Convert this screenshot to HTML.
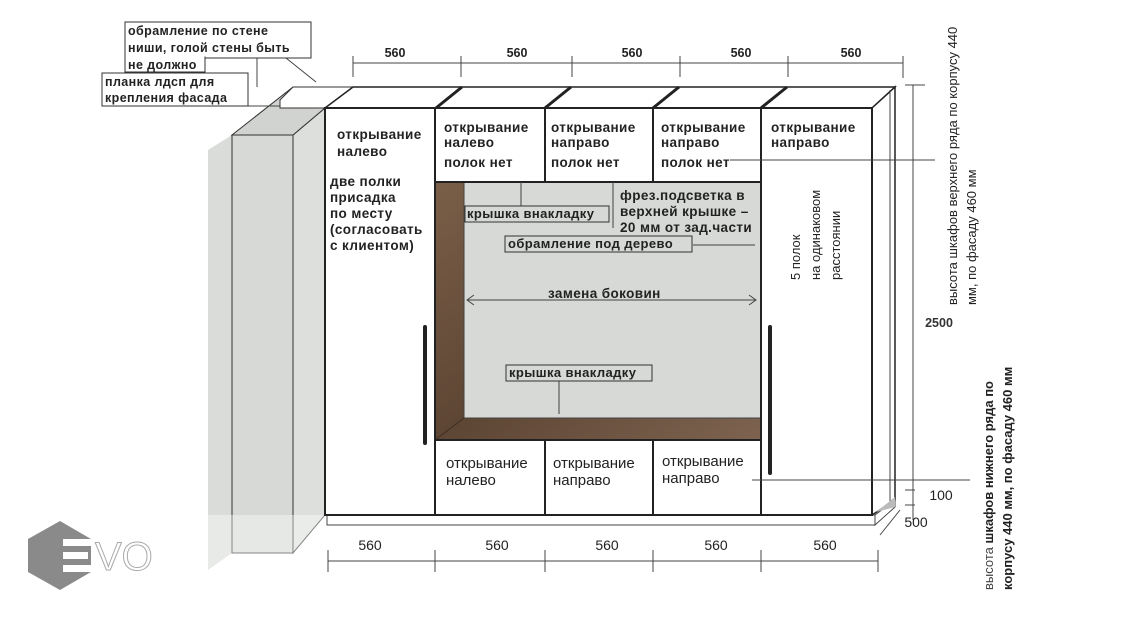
<!DOCTYPE html>
<html><head><meta charset="utf-8"><style>
html,body{margin:0;padding:0;background:#fff;}
svg{display:block;}
text{font-family:"Liberation Sans","DejaVu Sans",sans-serif;fill:#222;}
.b{font-weight:bold;font-size:13.5px;letter-spacing:0.4px;}
.d{font-size:12.5px;font-weight:bold;fill:#333;}
</style></head><body>
<svg width="1145" height="619" viewBox="0 0 1145 619" xmlns="http://www.w3.org/2000/svg">
<defs>
<linearGradient id="wood" x1="0" y1="0" x2="1" y2="1">
<stop offset="0" stop-color="#7a5f48"/><stop offset="0.5" stop-color="#5e4634"/><stop offset="1" stop-color="#7d6350"/>
</linearGradient>
</defs>
<!-- left wall / pillar -->
<polygon points="208,150 232,135 232,553 208,570" fill="#d9dcd8"/>
<rect x="232" y="135" width="61" height="418" fill="#d6d9d5" stroke="#333" stroke-width="1"/>
<polygon points="293,135 325,108 325,515 293,553" fill="#dcdfdb" stroke="#333" stroke-width="1"/>
<polygon points="232,135 293,135 325,108 353,87 293,87" fill="#d0d3cf" stroke="#333" stroke-width="1"/>
<polygon points="280,100 293,87 353,87 325,108 280,108" fill="#fff" stroke="#333" stroke-width="1"/>
<rect x="208" y="515" width="120" height="56" fill="#fff" opacity="0.4"/>
<!-- cabinet top & side -->
<polygon points="325,108 353,87 895,87 872,108" fill="#fff" stroke="#222" stroke-width="1.5"/>
<polygon points="872,108 895,87 895,500 872,515" fill="#fff" stroke="#222" stroke-width="1.5"/>
<line x1="436" y1="108" x2="462" y2="87" stroke="#222" stroke-width="3"/>
<line x1="545" y1="108" x2="571" y2="87" stroke="#222" stroke-width="3"/>
<line x1="653" y1="108" x2="679" y2="87" stroke="#222" stroke-width="3"/>
<line x1="761" y1="108" x2="787" y2="87" stroke="#222" stroke-width="3"/>
<line x1="890" y1="90" x2="890" y2="502" stroke="#444" stroke-width="1"/>
<!-- plinth -->
<polygon points="327,515 875,515 875,525 327,525" fill="#fff" stroke="#444" stroke-width="1"/>
<polygon points="875,515 895,500 895,507 875,525" fill="#fff" stroke="#444" stroke-width="1"/>
<polygon points="876,512 895,497 895,507 876,512" fill="#bbb"/>
<!-- front -->
<rect x="325" y="108" width="547" height="407" fill="#fff" stroke="#222" stroke-width="2"/>
<!-- niche -->
<rect x="435" y="182" width="327" height="258" fill="url(#wood)"/>
<rect x="464" y="182" width="298" height="236" fill="#d6d9d5"/>
<line x1="464" y1="418" x2="435" y2="440" stroke="#3d2d22" stroke-width="1"/>
<line x1="464" y1="182" x2="464" y2="418" stroke="#444" stroke-width="1"/>
<line x1="464" y1="418" x2="762" y2="418" stroke="#444" stroke-width="1"/>
<g stroke="#222" stroke-width="2" fill="none">
<line x1="435" y1="108" x2="435" y2="515"/>
<line x1="761" y1="108" x2="761" y2="515"/>
<line x1="545" y1="108" x2="545" y2="182"/>
<line x1="653" y1="108" x2="653" y2="182"/>
<line x1="435" y1="182" x2="761" y2="182"/>
<line x1="435" y1="440" x2="761" y2="440"/>
<line x1="545" y1="440" x2="545" y2="515"/>
<line x1="653" y1="440" x2="653" y2="515"/>
</g>
<rect x="423" y="325" width="4" height="120" fill="#222" rx="2"/>
<rect x="768" y="325" width="4" height="150" fill="#222" rx="2"/>
<g stroke="#444" stroke-width="1">
<line x1="353" y1="63" x2="903" y2="63"/>
<line x1="353" y1="56" x2="353" y2="77"/><line x1="461" y1="56" x2="461" y2="77"/>
<line x1="572" y1="56" x2="572" y2="77"/><line x1="680" y1="56" x2="680" y2="77"/>
<line x1="788" y1="56" x2="788" y2="77"/><line x1="903" y1="56" x2="903" y2="78"/>
<line x1="328" y1="561" x2="878" y2="561"/>
<line x1="328" y1="550" x2="328" y2="572"/><line x1="435" y1="550" x2="435" y2="572"/>
<line x1="545" y1="550" x2="545" y2="572"/><line x1="653" y1="550" x2="653" y2="572"/>
<line x1="761" y1="550" x2="761" y2="572"/><line x1="878" y1="550" x2="878" y2="572"/>
<line x1="913" y1="85" x2="913" y2="520"/><line x1="905" y1="85" x2="925" y2="85"/>
<line x1="905" y1="490" x2="915" y2="490"/><line x1="905" y1="505" x2="915" y2="505"/>
<line x1="880" y1="535" x2="900" y2="510"/>
<line x1="730" y1="160" x2="935" y2="160"/>
<line x1="752" y1="480" x2="970" y2="480"/>
<line x1="257" y1="57" x2="257" y2="87"/>
<line x1="286" y1="58" x2="316" y2="82"/>
<line x1="150" y1="106" x2="280" y2="106"/>
<line x1="521" y1="182" x2="521" y2="206"/>
<line x1="613" y1="182" x2="613" y2="228"/>
<line x1="693" y1="245" x2="755" y2="245"/>
<line x1="559" y1="381" x2="559" y2="414"/>
<line x1="468" y1="300" x2="755" y2="300"/>
</g>
<path d="M474,295 L467,300 L474,305 M749,295 L756,300 L749,305" stroke="#444" fill="none"/>
<g class="d" text-anchor="middle">
<text x="395" y="57">560</text><text x="517" y="57">560</text><text x="632" y="57">560</text><text x="741" y="57">560</text><text x="851" y="57">560</text>
</g>
<g text-anchor="middle" style="font-size:14px;font-family:'Liberation Sans Narrow','Liberation Sans',sans-serif;fill:#444">
<text x="370" y="550">560</text><text x="497" y="550">560</text><text x="607" y="550">560</text><text x="716" y="550">560</text><text x="825" y="550">560</text>
<text x="941" y="500">100</text>
<text x="916" y="527">500</text>
</g>
<text class="d" x="939" y="327" text-anchor="middle">2500</text>
<!-- labels -->
<rect x="125" y="22" width="186" height="36" fill="#fff" stroke="#333"/>
<rect x="125" y="56" width="80" height="16" fill="#fff" stroke="#333"/>
<rect x="125.5" y="22.5" width="185" height="34" fill="#fff" stroke="none"/>
<text class="b" x="128" y="35" style="font-size:12.5px">обрамление по стене</text>
<text class="b" x="128" y="52" style="font-size:12.5px">ниши, голой стены быть</text>
<text class="b" x="128" y="69" style="font-size:12.5px">не должно</text>
<rect x="102" y="73" width="146" height="33" fill="#fff" stroke="#333"/>
<text class="b" x="105" y="86" style="font-size:12.5px">планка лдсп для</text>
<text class="b" x="105" y="102" style="font-size:12.5px">крепления фасада</text>
<g class="b">
<text x="337" y="139">открывание</text><text x="337" y="156">налево</text>
<text x="330" y="186">две полки</text><text x="330" y="202">присадка</text><text x="330" y="218">по месту</text><text x="330" y="234">(согласовать</text><text x="330" y="250">с клиентом)</text>
<text x="444" y="132">открывание</text><text x="444" y="147">налево</text><text x="444" y="167">полок нет</text>
<text x="551" y="132">открывание</text><text x="551" y="147">направо</text><text x="551" y="167">полок нет</text>
<text x="661" y="132">открывание</text><text x="661" y="147">направо</text><text x="661" y="167">полок нет</text>
<text x="771" y="132">открывание</text><text x="771" y="147">направо</text>
<text x="620" y="200">фрез.подсветка в</text><text x="620" y="216">верхней крышке –</text><text x="620" y="232">20 мм от зад.части</text>
<text x="548" y="298">замена боковин</text>
</g>
<rect x="465" y="206" width="144" height="16" fill="#d6d9d5" stroke="#333"/>
<text class="b" x="467" y="218" style="font-size:13px">крышка внакладку</text>
<rect x="505" y="236" width="187" height="16" fill="#d6d9d5" stroke="#333"/>
<text class="b" x="508" y="248" style="font-size:13px">обрамление под дерево</text>
<rect x="506" y="365" width="146" height="16" fill="#d6d9d5" stroke="#333"/>
<text class="b" x="509" y="377" style="font-size:13px">крышка внакладку</text>
<g style="font-size:15px;font-family:'Liberation Sans Narrow','Liberation Sans',sans-serif">
<text x="446" y="468">открывание</text><text x="446" y="485">налево</text>
<text x="553" y="468">открывание</text><text x="553" y="485">направо</text>
<text x="662" y="466">открывание</text><text x="662" y="483">направо</text>
</g>
<g transform="translate(800,280) rotate(-90)" style="font-size:13px">
<text x="0" y="0">5 полок</text><text x="0" y="20">на одинаковом</text><text x="0" y="40">расстоянии</text>
</g>
<g transform="translate(957,305) rotate(-90)" style="font-size:13px">
<text x="0" y="0">высота шкафов верхнего ряда по корпусу 440</text>
<text x="0" y="19">мм, по фасаду 460 мм</text>
</g>
<g transform="translate(993,590) rotate(-90)" style="font-size:13px">
<text x="0" y="0" style="fill:#444">высота <tspan style="font-weight:bold;fill:#222">шкафов нижнего ряда по</tspan></text>
<text x="0" y="19" style="font-weight:bold">корпусу 440 мм, по фасаду 460 мм</text>
</g>
<!-- logo -->
<polygon points="60,521 91,539 91,572 60,590 28,572 28,539" fill="#8a8a8a"/>
<rect x="63" y="539" width="29" height="7" fill="#fff"/>
<rect x="63" y="552" width="25" height="7" fill="#fff"/>
<rect x="63" y="565" width="29" height="7" fill="#fff"/>
<text x="95" y="570" style="font-size:40px;fill:#fff;stroke:#aaa;stroke-width:1">VO</text>
</svg>
</body></html>
